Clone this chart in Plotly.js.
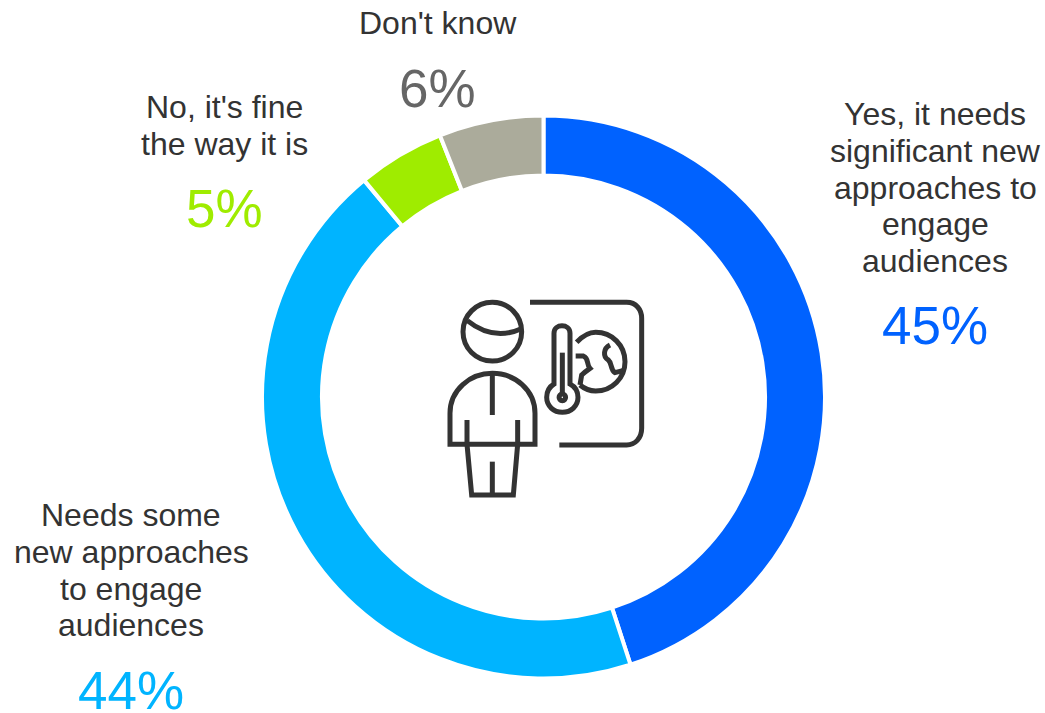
<!DOCTYPE html>
<html>
<head>
<meta charset="utf-8">
<script src="https://cdn.plot.ly/plotly-3.0.1.min.js"></script>
<style>html,body{margin:0;padding:0;background:#fff;overflow:hidden}#chart{width:1045px;height:713px}</style>
</head>
<body>
<div id="chart"></div>
<script>
// Survey responses, clockwise from twelve o'clock
const categories = [
  "Yes, it needs significant new approaches to engage audiences",
  "Needs some new approaches to engage audiences",
  "No, it's fine the way it is",
  "Don't know"
];
const shares = [45, 44, 5, 6];
const sliceColors = ["#0062ff", "#00b4ff", "#9fec00", "#abab9b"];
const shareColors = ["#0062ff", "#00b4ff", "#9fec00", "#666666"];
const labelLines = [
  ["Yes, it needs", "significant new", "approaches to", "engage", "audiences"],
  ["Needs some", "new approaches", "to engage", "audiences"],
  ["No, it's fine", "the way it is"],
  ["Don't know"]
];

const W = 1045, H = 713;
const px = (x, y) => [x / W, 1 - y / H];

// Where each caption block sits: centre x, first line y, line step, share y
const captionPlacement = [
  {x: 935, top: 114, step: 36.8, shareY: 326},
  {x: 131, top: 515, step: 36.8, shareY: 690},
  {x: 224, top: 107, step: 36.8, shareY: 208},
  {x: 437.5, top: 23, step: 36.8, shareY: 88}
];

const annotations = [];
labelLines.forEach((lines, i) => {
  const p = captionPlacement[i];
  lines.forEach((line, j) => {
    const [ax, ay] = px(p.x, p.top + j * p.step);
    annotations.push({text: line, x: ax, y: ay, xref: "paper", yref: "paper",
      xanchor: "center", yanchor: "middle", showarrow: false,
      font: {family: "Liberation Sans", size: 32, color: "#333333"}});
  });
  const [sx, sy] = px(p.x, p.shareY);
  annotations.push({text: shares[i] + "%", x: sx, y: sy, xref: "paper", yref: "paper",
    xanchor: "center", yanchor: "middle", showarrow: false,
    font: {family: "Liberation Sans", size: 53, color: shareColors[i]}});
});

// Centre pictogram: presenter beside a board with a thermometer and a globe.
// Drawn on a local grid where 3 units are one pixel.
const iconOrigin = [430, 280];
const iconPaths = [
  // head
  "M 187 67 C 236 67 275 106 275 155 C 275 204 236 243 187 243 C 138 243 99 204 99 155 C 99 106 138 67 187 67 Z",
  "M 112 122 Q 190 185 278 145",
  // torso, neck line and arms
  "M 60 493 L 60 400 C 60 330 120 280 187 280 C 255 280 315 330 315 400 L 315 493 Z",
  "M 187 285 L 187 405",
  "M 111 420 L 111 493 L 125 645 L 250 645 L 263 493 L 263 420",
  "M 187 545 L 187 645",
  // board
  "M 300 67 L 590 67 C 618 67 635 88 635 115 L 635 445 C 635 475 615 495 590 495 L 388 495",
  // thermometer
  "M 372 312 L 372 160 C 372 130 420 130 420 160 L 420 312 C 435 320 444 335 444 352 C 444 378 423 397 397 397 C 371 397 350 378 350 352 C 350 335 359 320 372 312 Z",
  "M 397 218 L 397 340",
  "M 397 342 C 410 342 410 362 397 362 C 384 362 384 342 397 342 Z",
  // globe and continents
  "M 440 187 C 458 168 478 157 497 157 C 546 157 585 196 585 245 C 585 294 546 333 497 333 C 480 333 463 326 450 315",
  "M 437 228 L 460 228 C 478 235 468 252 480 265 C 470 272 462 278 455 285 L 450 315",
  "M 540 195 C 520 205 518 230 535 240 C 547 250 540 268 555 278 L 578 272"
];
const toPaperPath = d => d.replace(/(-?[\d.]+) (-?[\d.]+)/g, (m, x, y) => {
  const [a, b] = px(iconOrigin[0] + x / 3, iconOrigin[1] + y / 3);
  return a.toFixed(5) + " " + b.toFixed(5);
});
const shapes = iconPaths.map(d => ({
  type: "path", xref: "paper", yref: "paper", path: toPaperPath(d),
  line: {color: "#333333", width: 5}, fillcolor: "rgba(0,0,0,0)", layer: "above"
}));

const cx = 543.5, cy = 397, outerR = 281.5;
const trace = {
  type: "pie",
  labels: categories,
  values: shares,
  sort: false,
  direction: "clockwise",
  rotation: 0,
  hole: 0.787,
  textinfo: "none",
  hoverinfo: "label+percent",
  marker: {colors: sliceColors, line: {color: "#ffffff", width: 4}},
  domain: {
    x: [(cx - outerR) / W, (cx + outerR) / W],
    y: [1 - (cy + outerR) / H, 1 - (cy - outerR) / H]
  }
};

Plotly.newPlot("chart", [trace], {
  width: W, height: H,
  margin: {l: 0, r: 0, t: 0, b: 0},
  paper_bgcolor: "#ffffff",
  showlegend: false,
  annotations, shapes
}, {displayModeBar: false});
</script>
</body>
</html>
